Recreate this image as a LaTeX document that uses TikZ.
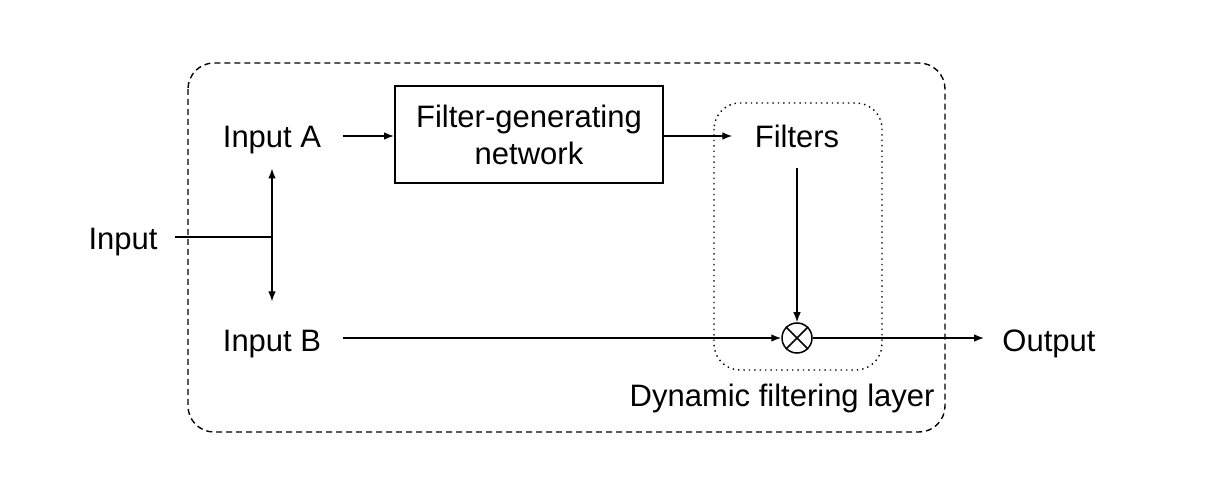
\documentclass[tikz,border=0pt]{standalone}
\usepackage{fontspec}
\setmainfont{Liberation Sans}
\usetikzlibrary{arrows,arrows.meta,shapes,positioning}
\tikzstyle{lbl} = [inner sep=0pt, text height=11.1pt, text depth=0pt, font=\fontsize{15.5}{18.5}\selectfont]
\tikzstyle{conn} = [line width=0.75pt, -{Latex[length=5pt,width=3.8pt]}]
\tikzstyle{block} = [draw, line width=0.9pt, minimum width=134pt, minimum height=48.5pt, align=center, font=\fontsize{15.5}{18.5}\selectfont]

\begin{document}
\begin{tikzpicture}[x=0.5pt,y=-0.5pt]
  	   	\useasboundingbox (0,0) rectangle (1206,502);
  	   	% layer frames
  	   	\draw[line width=0.7pt, dash pattern=on 3pt off 2pt, rounded corners=13pt] (188,63) rectangle (945,432);
  	   	\draw[line width=0.7pt, dotted, rounded corners=13pt] (714,103) rectangle (882,370);
  	   	
  	   	\node[lbl] (input) at (123,238) {Input};
  	   	\node[lbl] (inA) at (272,136) {Input A};
  	   	\node[lbl] (inB) at (272,340) {Input B};
  	   	\node[block] (fgn) at (529,134.5) {Filter-generating\\network};
  	   	\node[lbl] (filt) at (797,136) {Filters};
  	   	\node[draw, circle, line width=0.75pt, minimum size=15pt, inner sep=0pt] (mul) at (797,338) {};
  	   	\draw[line width=0.75pt] (mul.north east) -- (mul.south west) (mul.north west) -- (mul.south east);
  	   	\node[lbl] (out) at (1049,340) {Output};
  	   	\node[lbl, anchor=east] (dfl) at (935,395) {Dynamic filtering layer};
  	   	
  	   	\coordinate (split) at (272,237);
  	   	\draw[line width=0.75pt] (input.east |- split) ++(8.5pt,0) coordinate (in0) -- (split);
  	   	\draw[conn, {Latex[length=5pt,width=3.8pt]}-{Latex[length=5pt,width=3.8pt]}, shorten <=10.5pt, shorten >=13.5pt] (inA.south) -- (inB.north);
  	   	\draw[conn, shorten <=10.5pt] (inA.east |- filt) -- (fgn.west |- filt);
  	   	\draw[conn, shorten >=11pt] (fgn.east |- filt) -- (filt.west);
  	   	\draw[conn, shorten <=10.5pt] (filt.south) -- (mul.north);
  	   	\draw[conn, shorten <=10.5pt] (inB.east |- mul) -- (mul.west);
  	   	\draw[conn, shorten >=9pt] (mul.east) -- (out.west |- mul);
  	   	%\draw[conn] (dfl) -- (mul);
  	   \end{tikzpicture}
\end{document}
